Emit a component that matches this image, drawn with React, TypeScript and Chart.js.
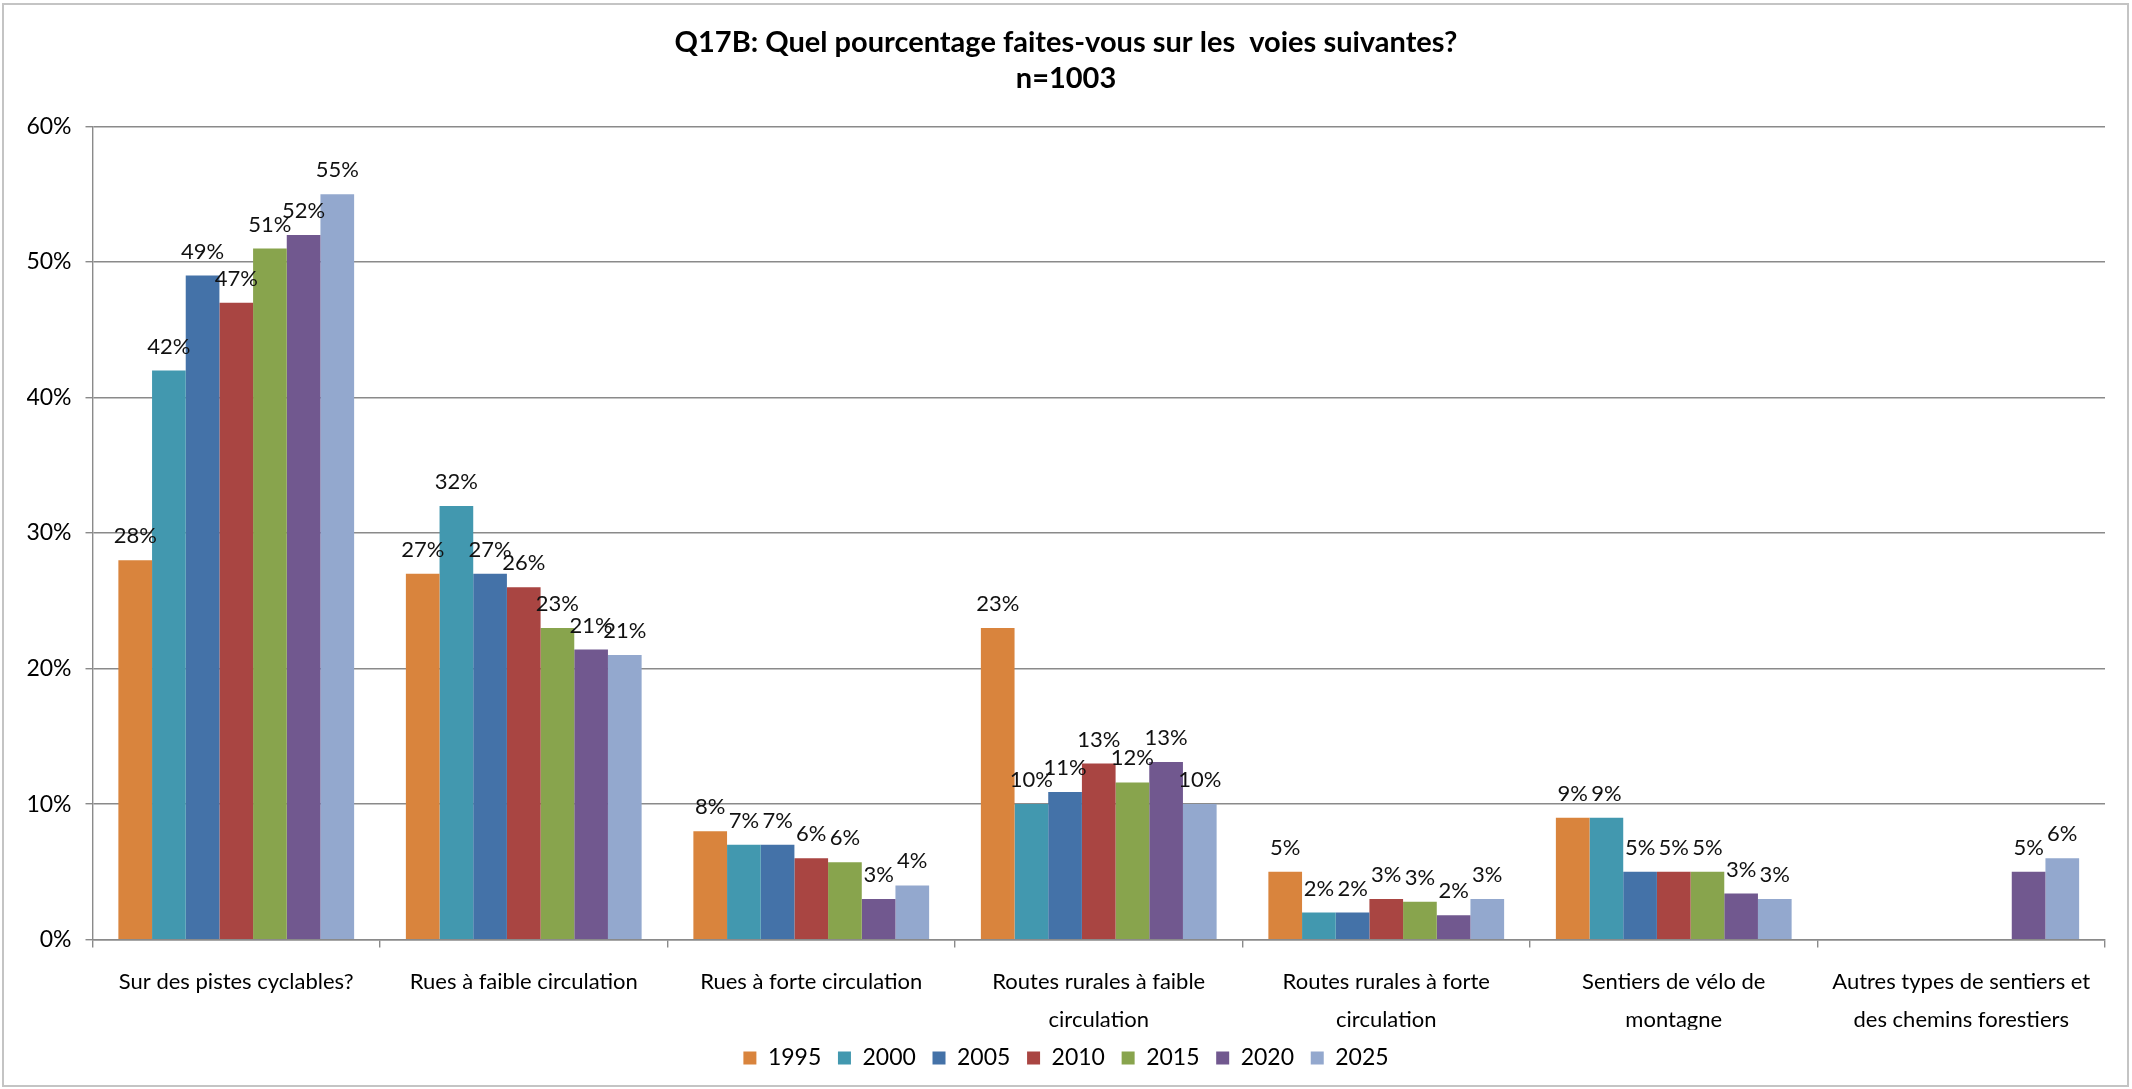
import React, { useEffect, useRef } from "react";
import { Chart, registerables } from "chart.js";

Chart.register(...registerables);

// ---- data ----
const categories: (string | string[])[] = [
  "Sur des pistes cyclables?",
  "Rues à faible circulation",
  "Rues à forte circulation",
  ["Routes rurales à faible", "circulation"],
  ["Routes rurales à forte", "circulation"],
  ["Sentiers de vélo de", "montagne"],
  ["Autres types de sentiers et", "des chemins forestiers"],
];
const years = ["1995", "2000", "2005", "2010", "2015", "2020", "2025"];
const v1995 = [28, 27, 8, 23, 5, 9, null];
const v2000 = [42, 32, 7, 10, 2, 9, null];
const v2005 = [49, 27, 7, 10.9, 2, 5, null];
const v2010 = [47, 26, 6, 13, 3, 5, null];
const v2015 = [51, 23, 5.7, 11.6, 2.8, 5, null];
const v2020 = [52, 21.4, 3, 13.1, 1.8, 3.4, 5];
const v2025 = [55, 21, 4, 10, 3, 3, 6];
const seriesValues = [v1995, v2000, v2005, v2010, v2015, v2020, v2025];
const seriesColors = ["#D9843D", "#4298AF", "#4472A8", "#A94542", "#88A44D", "#71588F", "#93A8CE"];
const yTicks = [0, 10, 20, 30, 40, 50, 60];
const titleLines = ["Q17B: Quel pourcentage faites-vous sur les  voies suivantes?", "n=1003"];

const FONT = "Lato, 'Open Sans', sans-serif";

const frameAndLabels = {
  id: "frameAndLabels",
  beforeDraw(chart: any) {
    const ctx = chart.ctx;
    ctx.save();
    ctx.fillStyle = "#ffffff";
    ctx.fillRect(0, 0, chart.width, chart.height);
    ctx.strokeStyle = "#c4c4c4";
    ctx.lineWidth = 2;
    ctx.strokeRect(3, 4, chart.width - 7, chart.height - 7);
    ctx.restore();
  },
  afterDatasetsDraw(chart: any) {
    const ctx = chart.ctx;
    ctx.save();
    ctx.font = `22px ${FONT}`;
    ctx.fillStyle = "#111111";
    ctx.textAlign = "center";
    ctx.textBaseline = "middle";
    chart.data.datasets.forEach((ds: any, i: number) => {
      const meta = chart.getDatasetMeta(i);
      meta.data.forEach((bar: any, j: number) => {
        const v = ds.data[j];
        if (v === null || v === undefined) return;
        ctx.fillText(`${Math.round(v)}%`, bar.x, bar.y - 24);
      });
    });
    ctx.restore();
  },
};

export default function App() {
  const ref = useRef<HTMLCanvasElement | null>(null);

  useEffect(() => {
    document.body.style.margin = "0";
    const canvas = ref.current;
    if (!canvas) return;
    const chart = new Chart(canvas, {
      type: "bar",
      data: {
        labels: categories,
        datasets: years.map((y, i) => ({
          label: y,
          data: seriesValues[i],
          backgroundColor: seriesColors[i],
          borderWidth: 0,
          barPercentage: 1,
          categoryPercentage: 0.82,
        })),
      },
      options: {
        responsive: false,
        animation: false,
        devicePixelRatio: 1,
        layout: { padding: { left: 27, right: 27, top: 0, bottom: 9.5 } },
        plugins: {
          title: {
            display: true,
            text: titleLines,
            color: "#000000",
            font: { family: FONT, size: 29, weight: "bold", lineHeight: "36px" },
            padding: { top: 25, bottom: 29.5 },
          },
          legend: {
            position: "bottom",
            labels: {
              color: "#000000",
              font: { family: FONT, size: 23 },
              boxWidth: 13,
              boxHeight: 13,
              padding: 16.7,
            },
          },
          tooltip: { enabled: false },
        },
        scales: {
          x: {
            grid: {
              display: true,
              drawOnChartArea: false,
              drawTicks: true,
              tickLength: 8,
              color: "#8a8a8a",
              lineWidth: 1.4,
            },
            border: { display: true, color: "#8a8a8a", width: 1.4 },
            ticks: {
              color: "#000000",
              font: { family: FONT, size: 22, lineHeight: "38px" },
              padding: 15,
              maxRotation: 0,
              autoSkip: false,
            },
            afterFit: (scale: any) => {
              scale.height = 90.2;
            },
          },
          y: {
            min: 0,
            max: 60,
            grid: {
              color: "#8a8a8a",
              lineWidth: 1.4,
              drawTicks: true,
              tickLength: 7,
            },
            border: { display: true, color: "#8a8a8a", width: 1.4 },
            ticks: {
              color: "#000000",
              font: { family: FONT, size: 23 },
              padding: 14,
              callback: (v: any) => `${v}%`,
            },
            afterBuildTicks: (axis: any) => {
              axis.ticks = yTicks.map((v) => ({ value: v }));
            },
            afterFit: (scale: any) => {
              scale.width = 65.5;
            },
          },
        },
      },
      plugins: [frameAndLabels],
    });
    return () => chart.destroy();
  }, []);

  return (
    <div style={{ width: 2132, height: 1089, position: "relative" }}>
      <canvas ref={ref} width={2132} height={1089} style={{ display: "block" }} />
    </div>
  );
}
